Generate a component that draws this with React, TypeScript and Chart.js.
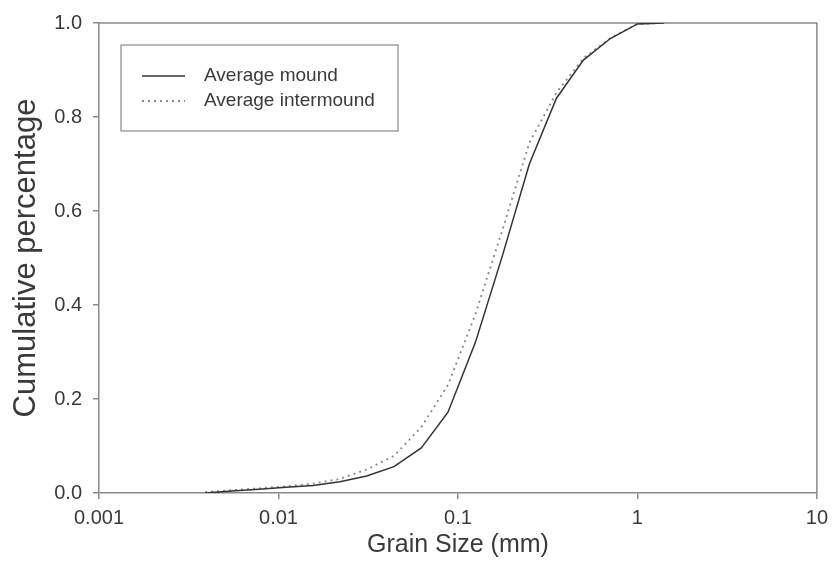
import React, { useEffect, useRef } from 'react';
import { Chart, registerables } from 'chart.js';

Chart.register(...registerables);

// Grain sizes (mm), half-phi sieve classes
const grainSizes = [0.0039, 0.0055, 0.0078, 0.011, 0.0156, 0.022, 0.031, 0.044, 0.0625, 0.088, 0.125, 0.177, 0.25, 0.354, 0.5, 0.707, 1.0, 1.41];
const moundValues = [0, 0.004, 0.008, 0.012, 0.016, 0.024, 0.036, 0.056, 0.096, 0.172, 0.32, 0.505, 0.7, 0.84, 0.921, 0.967, 0.998, 1.0];
const intermoundValues = [0.002, 0.006, 0.01, 0.014, 0.02, 0.03, 0.05, 0.079, 0.14, 0.23, 0.38, 0.56, 0.745, 0.852, 0.925, 0.968, 0.998, 1.0];
const seriesLabels = ['Average mound', 'Average intermound'];
const xTickValues = [0.001, 0.01, 0.1, 1, 10];
const xTickLabels = ['0.001', '0.01', '0.1', '1', '10'];
const xTitle = 'Grain Size (mm)';
const yTitle = 'Cumulative percentage';

const AXIS_COLOR = '#8a8a8a';
const TEXT_COLOR = '#3a3a3a';
const FONT = '"Liberation Sans", Arial, sans-serif';

const framePlugin = {
  id: 'frame',
  beforeDatasetsDraw(chart: any) {
    const { ctx, chartArea } = chart;
    const { left, top, right, bottom } = chartArea;
    ctx.save();
    ctx.strokeStyle = AXIS_COLOR;
    ctx.lineWidth = 1.5;
    ctx.beginPath();
    ctx.moveTo(left, top);
    ctx.lineTo(right, top);
    ctx.lineTo(right, bottom);
    ctx.stroke();
    ctx.restore();
  },
};

const boxLegendPlugin = {
  id: 'boxLegend',
  afterDatasetsDraw(chart: any) {
    const { ctx, chartArea } = chart;
    const bx = chartArea.left + 22;
    const by = chartArea.top + 22;
    const bw = 277;
    const bh = 86;
    ctx.save();
    ctx.fillStyle = '#ffffff';
    ctx.fillRect(bx, by, bw, bh);
    ctx.strokeStyle = AXIS_COLOR;
    ctx.lineWidth = 1.2;
    ctx.strokeRect(bx, by, bw, bh);
    chart.data.datasets.forEach((ds: any, i: number) => {
      const y = by + 31 + i * 25;
      ctx.beginPath();
      ctx.strokeStyle = ds.borderColor;
      ctx.lineWidth = ds.borderWidth;
      ctx.setLineDash(ds.borderDash || []);
      ctx.moveTo(bx + 21, y);
      ctx.lineTo(bx + 64, y);
      ctx.stroke();
      ctx.setLineDash([]);
      ctx.fillStyle = TEXT_COLOR;
      ctx.font = `19px ${FONT}`;
      ctx.textBaseline = 'middle';
      ctx.textAlign = 'left';
      ctx.fillText(ds.label, bx + 83, y);
    });
    ctx.restore();
  },
};

export default function App() {
  const ref = useRef<HTMLCanvasElement>(null);

  useEffect(() => {
    if (!ref.current) return;
    const chart = new Chart(ref.current, {
      type: 'line',
      data: {
        datasets: [
          {
            label: seriesLabels[0],
            data: grainSizes.map((x, i) => ({ x, y: moundValues[i] })),
            borderColor: '#333333',
            borderWidth: 1.5,
            pointRadius: 0,
            fill: false,
            tension: 0,
          },
          {
            label: seriesLabels[1],
            data: grainSizes.map((x, i) => ({ x, y: intermoundValues[i] })),
            borderColor: '#8a8a8a',
            borderWidth: 1.8,
            borderDash: [2, 4],
            pointRadius: 0,
            fill: false,
            tension: 0,
          },
        ],
      },
      options: {
        animation: false,
        responsive: true,
        maintainAspectRatio: false,
        layout: { padding: { left: 0, top: 21, right: 18, bottom: 0 } },
        plugins: {
          legend: { display: false },
          tooltip: { enabled: false },
        },
        scales: {
          x: {
            type: 'logarithmic',
            position: 'bottom',
            min: 0.001,
            max: 10,
            afterBuildTicks: (s: any) => {
              s.ticks = xTickValues.map((v) => ({ value: v }));
            },
            afterFit: (s: any) => {
              s.height = 82;
            },
            ticks: {
              autoSkip: false,
              maxRotation: 0,
              color: TEXT_COLOR,
              padding: 7,
              font: { size: 20, family: FONT },
              callback: (v: any) => {
                const idx = xTickValues.indexOf(Number(v));
                return idx >= 0 ? xTickLabels[idx] : '';
              },
            },
            grid: {
              display: true,
              drawOnChartArea: false,
              drawTicks: true,
              tickLength: 6,
              color: AXIS_COLOR,
              lineWidth: 1.5,
            },
            border: { display: true, color: AXIS_COLOR, width: 1.5 },
            title: {
              display: true,
              text: xTitle,
              color: TEXT_COLOR,
              font: { size: 25, family: FONT },
              padding: { top: 0, bottom: 15 },
            },
          },
          y: {
            type: 'linear',
            min: 0,
            max: 1,
            afterFit: (s: any) => {
              s.width = 99;
            },
            ticks: {
              stepSize: 0.2,
              color: TEXT_COLOR,
              padding: 11,
              font: { size: 20, family: FONT },
              callback: (v: any) => Number(v).toFixed(1),
            },
            grid: {
              display: true,
              drawOnChartArea: false,
              drawTicks: true,
              tickLength: 6,
              color: AXIS_COLOR,
              lineWidth: 1.5,
            },
            border: { display: true, color: AXIS_COLOR, width: 1.5 },
            title: {
              display: true,
              text: yTitle,
              color: TEXT_COLOR,
              font: { size: 31, family: FONT },
              padding: { top: 8, bottom: 0 },
            },
          },
        },
      },
      plugins: [framePlugin, boxLegendPlugin],
    } as any);
    return () => chart.destroy();
  }, []);

  return (
    <div style={{ position: 'fixed', left: 0, top: 0, width: 835, height: 575, background: '#ffffff' }}>
      <canvas ref={ref} />
    </div>
  );
}
